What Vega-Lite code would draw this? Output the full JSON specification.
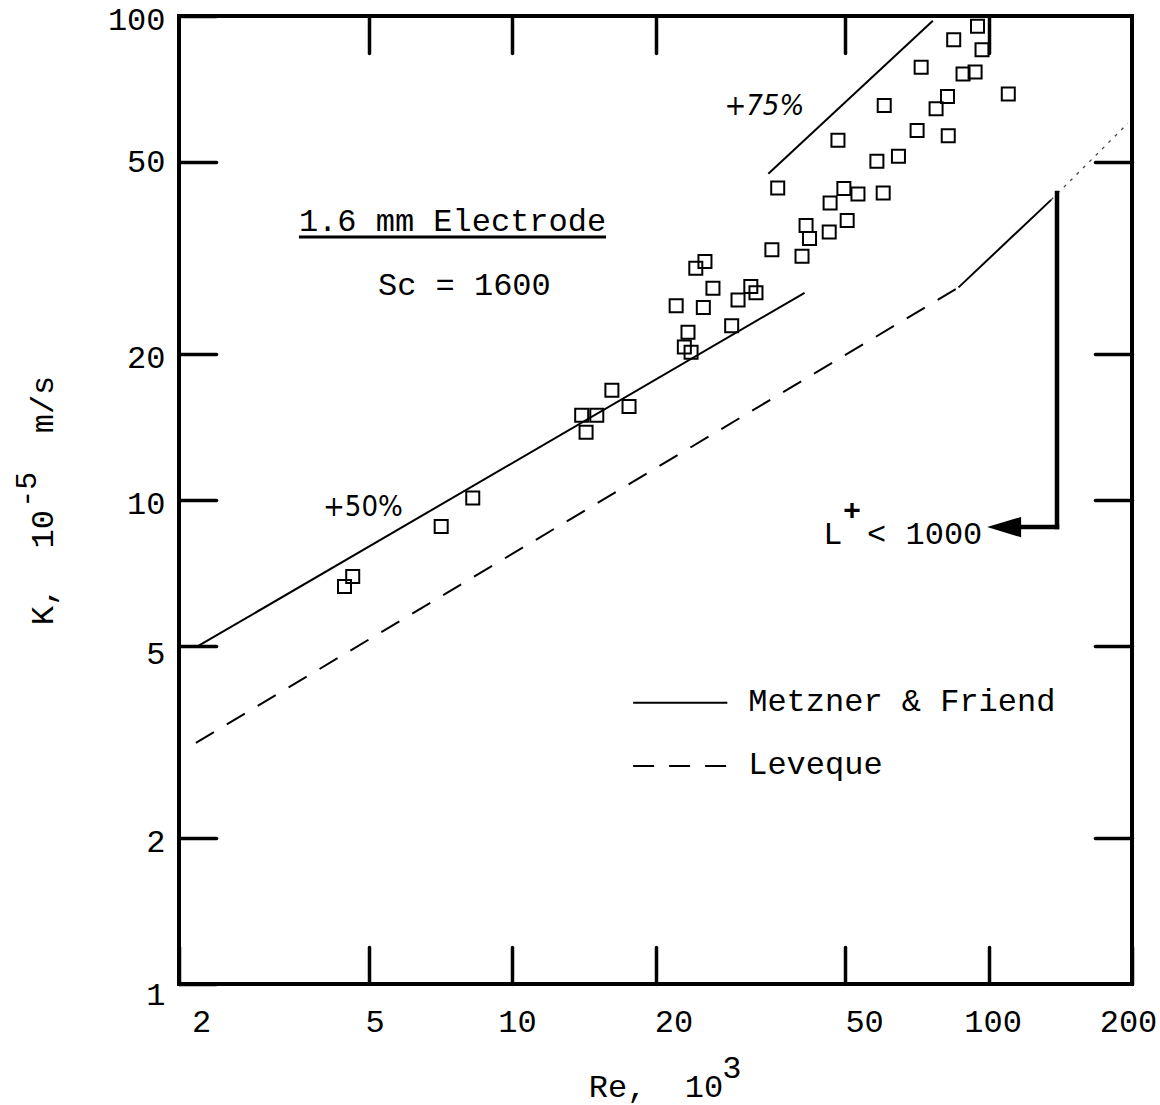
{
  "$schema": "https://vega.github.io/schema/vega-lite/v6.json",
  "autosize": "none",
  "padding": {"left": 179, "top": 16, "right": 28, "bottom": 121},
  "width": 953,
  "height": 968,
  "background": "white",
  "config": {
    "view": {"stroke": "black", "strokeWidth": 4},
    "axis": {
      "grid": false,
      "domain": false,
      "tickColor": "black",
      "tickWidth": 3.5,
      "tickSize": -37,
      "tickCap": "round",
      "labelFont": "Liberation Mono",
      "labelFontSize": 32,
      "labelColor": "black",
      "labelFlush": false,
      "labelBound": false,
      "labelOverlap": false,
      "titleFont": "Liberation Mono",
      "titleFontSize": 32,
      "titleFontWeight": "normal",
      "titleColor": "black"
    }
  },
  "datasets": {
    "points": [
      {"Re": 4.45, "K": 6.63}, {"Re": 4.63, "K": 6.95}, {"Re": 7.10, "K": 8.82}, {"Re": 8.27, "K": 10.1},
      {"Re": 14.3, "K": 13.8}, {"Re": 14.0, "K": 14.96}, {"Re": 15.06, "K": 14.96}, {"Re": 16.2, "K": 16.85},
      {"Re": 17.6, "K": 15.6}, {"Re": 22.99, "K": 20.7}, {"Re": 23.75, "K": 20.2}, {"Re": 23.4, "K": 22.2},
      {"Re": 22.1, "K": 25.2}, {"Re": 25.2, "K": 25.0}, {"Re": 26.4, "K": 27.4}, {"Re": 24.3, "K": 30.1},
      {"Re": 25.4, "K": 31.1}, {"Re": 28.9, "K": 22.9}, {"Re": 29.8, "K": 25.9}, {"Re": 31.7, "K": 27.6},
      {"Re": 32.5, "K": 26.8}, {"Re": 35.1, "K": 32.9}, {"Re": 40.6, "K": 31.9}, {"Re": 42.1, "K": 34.7},
      {"Re": 41.4, "K": 36.9}, {"Re": 46.3, "K": 35.8}, {"Re": 36.1, "K": 44.1}, {"Re": 49.7, "K": 44.0},
      {"Re": 53.2, "K": 42.9}, {"Re": 60.1, "K": 43.1}, {"Re": 46.5, "K": 41.1}, {"Re": 50.5, "K": 37.8},
      {"Re": 48.3, "K": 55.4}, {"Re": 60.4, "K": 65.3}, {"Re": 72.2, "K": 78.4}, {"Re": 84.5, "K": 89.3},
      {"Re": 94.8, "K": 95.2}, {"Re": 96.9, "K": 85.2}, {"Re": 88.4, "K": 75.9}, {"Re": 93.7, "K": 76.6},
      {"Re": 110, "K": 69.0}, {"Re": 82.0, "K": 68.2}, {"Re": 77.6, "K": 64.3}, {"Re": 70.8, "K": 58.0},
      {"Re": 82.3, "K": 56.6}, {"Re": 64.7, "K": 51.3}, {"Re": 58.3, "K": 50.1}
    ],
    "solid": [
      {"Re": 2.2, "K": 5.0, "Re2": 41.1, "K2": 26.8},
      {"Re": 34.5, "K": 47.2, "Re2": 76.4, "K2": 97.8},
      {"Re": 86.5, "K": 27.5, "Re2": 135.3, "K2": 41.7},
      {"Re": 17.95, "K": 3.81, "Re2": 28.3, "K2": 3.81}
    ],
    "dashed": [
      {"Re": 2.17, "K": 3.15, "Re2": 86.5, "K2": 27.5},
      {"Re": 17.95, "K": 2.82, "Re2": 28.3, "K2": 2.82}
    ],
    "dotted": [
      {"Re": 135.3, "K": 41.7, "Re2": 196, "K2": 60}
    ],
    "thick": [
      {"Re": 139.2, "K": 43.1, "Re2": 139.2, "K2": 8.79},
      {"Re": 112, "K": 8.79, "Re2": 139.2, "K2": 8.79}
    ],
    "underline": [
      {"Re": 3.57, "K": 34.95, "Re2": 15.75, "K2": 34.95}
    ],
    "arrowhead": [
      {"Re": 107.8, "K": 8.79}
    ],
    "texts": [
      {"Re": 3.57, "K": 35.96, "t": "1.6 mm Electrode"},
      {"Re": 5.23, "K": 26.5, "t": "Sc = 1600"},
      {"Re": 31.3, "K": 3.66, "t": "Metzner & Friend"},
      {"Re": 31.3, "K": 2.72, "t": "Leveque"},
      {"Re": 44.96, "K": 8.11, "t": "L"},
      {"Re": 55.6, "K": 8.11, "t": "< 1000"},
      {"Re": 27.6, "K": 0.64, "t": "3"}
    ],
    "supy": [
      {"Re": 1.0, "K": 10.5, "t": "-5"}
    ],
    "sup": [
      {"Re": 51.7, "K": 9.09, "t": "+"}
    ],
    "pct75": [
      {"Re": 27.9, "K": 62.5, "t": "+75%"}
    ],
    "pct50": [
      {"Re": 4.01, "K": 9.27, "t": "+50%"}
    ]
  },
  "layer": [
    {
      "data": {"name": "points"},
      "mark": {"type": "point", "shape": "square", "filled": false, "stroke": "black", "strokeWidth": 2, "size": 169, "opacity": 1},
      "encoding": {
        "x": {
          "field": "Re", "type": "quantitative",
          "scale": {"type": "log", "domain": [2, 200], "nice": false},
          "axis": {
            "orient": "bottom",
            "values": [2, 5, 10, 20, 50, 100, 200],
            "format": "d",
            "labelPadding": 59,
            "title": "Re,\u00a0\u00a010",
            "titlePadding": 34,
            "labelOffset": {
              "condition": [
                {"test": "datum.value == 2", "value": 22},
                {"test": "datum.value == 5", "value": 6},
                {"test": "datum.value == 10", "value": 5},
                {"test": "datum.value == 20", "value": 18},
                {"test": "datum.value == 50", "value": 19},
                {"test": "datum.value == 100", "value": 4}
              ],
              "value": -4
            }
          }
        },
        "y": {
          "field": "K", "type": "quantitative",
          "scale": {"type": "log", "domain": [1, 100], "nice": false},
          "axis": {
            "orient": "left",
            "values": [1, 2, 5, 10, 20, 50, 100],
            "format": "d",
            "labelPadding": 51,
            "title": "K,\u00a0\u00a010\u00a0\u00a0\u00a0\u00a0m/s",
            "titlePadding": 48,
            "labelOffset": {
              "condition": [
                {"test": "datum.value == 1", "value": 10},
                {"test": "datum.value == 5", "value": 8},
                {"test": "datum.value == 50", "value": 0}
              ],
              "value": 3
            }
          }
        }
      }
    },
    {
      "data": {"name": "solid"},
      "mark": {"type": "rule", "color": "black", "strokeWidth": 2},
      "encoding": {
        "x": {
          "field": "Re", "type": "quantitative",
          "scale": {"type": "log", "domain": [2, 200], "nice": false},
          "axis": {"orient": "top", "values": [5, 10, 20, 50, 100], "labels": false, "title": null}
        },
        "y": {
          "field": "K", "type": "quantitative",
          "scale": {"type": "log", "domain": [1, 100], "nice": false},
          "axis": {"orient": "right", "values": [2, 5, 10, 20, 50], "labels": false, "title": null}
        },
        "x2": {"field": "Re2"},
        "y2": {"field": "K2"}
      }
    },
    {
      "data": {"name": "dashed"},
      "mark": {"type": "rule", "color": "black", "strokeWidth": 2, "strokeDash": [21, 15]},
      "encoding": {
        "x": {"field": "Re", "type": "quantitative", "scale": {"type": "log", "domain": [2, 200], "nice": false}, "axis": null},
        "y": {"field": "K", "type": "quantitative", "scale": {"type": "log", "domain": [1, 100], "nice": false}, "axis": null},
        "x2": {"field": "Re2"},
        "y2": {"field": "K2"}
      }
    },
    {
      "data": {"name": "dotted"},
      "mark": {"type": "rule", "color": "#444444", "strokeWidth": 1.3, "strokeDash": [3, 6]},
      "encoding": {
        "x": {"field": "Re", "type": "quantitative", "scale": {"type": "log", "domain": [2, 200], "nice": false}, "axis": null},
        "y": {"field": "K", "type": "quantitative", "scale": {"type": "log", "domain": [1, 100], "nice": false}, "axis": null},
        "x2": {"field": "Re2"},
        "y2": {"field": "K2"}
      }
    },
    {
      "data": {"name": "thick"},
      "mark": {"type": "rule", "color": "black", "strokeWidth": 4.5, "strokeCap": "square"},
      "encoding": {
        "x": {"field": "Re", "type": "quantitative", "scale": {"type": "log", "domain": [2, 200], "nice": false}, "axis": null},
        "y": {"field": "K", "type": "quantitative", "scale": {"type": "log", "domain": [1, 100], "nice": false}, "axis": null},
        "x2": {"field": "Re2"},
        "y2": {"field": "K2"}
      }
    },
    {
      "data": {"name": "underline"},
      "mark": {"type": "rule", "color": "black", "strokeWidth": 3},
      "encoding": {
        "x": {"field": "Re", "type": "quantitative", "scale": {"type": "log", "domain": [2, 200], "nice": false}, "axis": null},
        "y": {"field": "K", "type": "quantitative", "scale": {"type": "log", "domain": [1, 100], "nice": false}, "axis": null},
        "x2": {"field": "Re2"},
        "y2": {"field": "K2"}
      }
    },
    {
      "data": {"name": "arrowhead"},
      "mark": {"type": "point", "shape": "M -1 0 L 1 -0.6 L 1 0.6 Z", "filled": true, "color": "black", "size": 1156, "opacity": 1},
      "encoding": {
        "x": {"field": "Re", "type": "quantitative", "scale": {"type": "log", "domain": [2, 200], "nice": false}, "axis": null},
        "y": {"field": "K", "type": "quantitative", "scale": {"type": "log", "domain": [1, 100], "nice": false}, "axis": null}
      }
    },
    {
      "data": {"name": "texts"},
      "mark": {"type": "text", "font": "Liberation Mono", "fontSize": 32, "color": "black", "align": "left", "baseline": "alphabetic"},
      "encoding": {
        "x": {"field": "Re", "type": "quantitative", "scale": {"type": "log", "domain": [2, 200], "nice": false}, "axis": null},
        "y": {"field": "K", "type": "quantitative", "scale": {"type": "log", "domain": [1, 100], "nice": false}, "axis": null},
        "text": {"field": "t"}
      }
    },
    {
      "data": {"name": "supy"},
      "mark": {"type": "text", "font": "Liberation Mono", "fontSize": 30, "color": "black", "align": "center", "baseline": "alphabetic", "angle": 270},
      "encoding": {
        "x": {"field": "Re", "type": "quantitative", "scale": {"type": "log", "domain": [2, 200], "nice": false}, "axis": null},
        "y": {"field": "K", "type": "quantitative", "scale": {"type": "log", "domain": [1, 100], "nice": false}, "axis": null},
        "text": {"field": "t"}
      }
    },
    {
      "data": {"name": "sup"},
      "mark": {"type": "text", "font": "Liberation Mono", "fontSize": 30, "fontWeight": "bold", "color": "black", "align": "center", "baseline": "alphabetic"},
      "encoding": {
        "x": {"field": "Re", "type": "quantitative", "scale": {"type": "log", "domain": [2, 200], "nice": false}, "axis": null},
        "y": {"field": "K", "type": "quantitative", "scale": {"type": "log", "domain": [1, 100], "nice": false}, "axis": null},
        "text": {"field": "t"}
      }
    },
    {
      "data": {"name": "pct75"},
      "mark": {"type": "text", "font": "Liberation Sans Narrow, DejaVu Sans Condensed, sans-serif", "fontSize": 29, "fontStyle": "italic", "color": "black", "align": "left", "baseline": "alphabetic"},
      "encoding": {
        "x": {"field": "Re", "type": "quantitative", "scale": {"type": "log", "domain": [2, 200], "nice": false}, "axis": null},
        "y": {"field": "K", "type": "quantitative", "scale": {"type": "log", "domain": [1, 100], "nice": false}, "axis": null},
        "text": {"field": "t"}
      }
    },
    {
      "data": {"name": "pct50"},
      "mark": {"type": "text", "font": "Liberation Sans Narrow, DejaVu Sans Condensed, sans-serif", "fontSize": 29, "color": "black", "align": "left", "baseline": "alphabetic"},
      "encoding": {
        "x": {"field": "Re", "type": "quantitative", "scale": {"type": "log", "domain": [2, 200], "nice": false}, "axis": null},
        "y": {"field": "K", "type": "quantitative", "scale": {"type": "log", "domain": [1, 100], "nice": false}, "axis": null},
        "text": {"field": "t"}
      }
    }
  ],
  "resolve": {"axis": {"x": "independent", "y": "independent"}}
}
